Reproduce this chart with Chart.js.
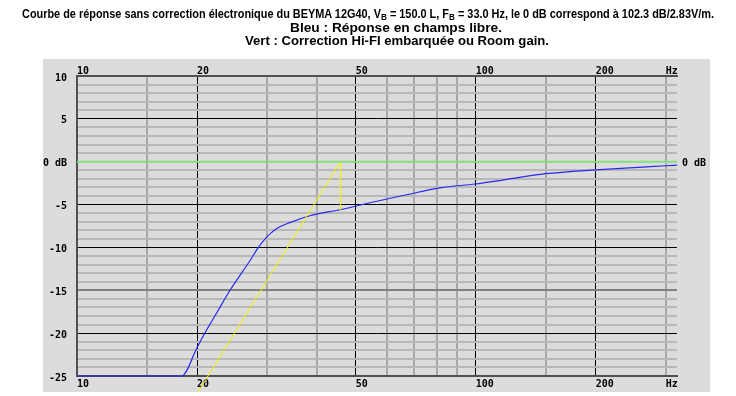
<!DOCTYPE html>
<html>
<head>
<meta charset="utf-8">
<script src="https://cdn.jsdelivr.net/npm/chart.js@4.4.0/dist/chart.umd.min.js"></script>
<style>
  html, body { margin: 0; padding: 0; background: #fff; }
  #cadre { position: relative; width: 736px; height: 396px; }
  #courbe { position: absolute; left: 0; top: 0; }
  .ligne {
    position: absolute; white-space: nowrap; color: #000;
    font: bold 12px "Liberation Sans", Arial, sans-serif;
    line-height: 13px; transform-origin: 0 0;
  }
  .ligne sub { font-size: 9px; vertical-align: -2px; line-height: 0; }
</style>
</head>
<body>
<div id="cadre">
  <canvas id="courbe" width="736" height="396"></canvas>
  <div class="ligne" data-largeur="692" style="left:22px; top:8px;">Courbe de réponse sans correction électronique du BEYMA 12G40, V<sub>B</sub> = 150.0 L, F<sub>B</sub> = 33.0 Hz, le 0 dB correspond à 102.3 dB/2.83V/m.</div>
  <div class="ligne" data-largeur="212" style="left:290px; top:22px;">Bleu : Réponse en champs libre.</div>
  <div class="ligne" data-largeur="304" style="left:245px; top:35px;">Vert : Correction Hi-FI embarquée ou Room gain.</div>
</div>
<script>
// graduations de l'axe des fréquences (Hz)
const freqTicks = [10, 15, 20, 30, 40, 50, 60, 70, 80, 90, 100, 150, 200, 300];
const freqMajeures = [20, 50, 100, 200];
const freqLabels = { 10: "10", 20: "20", 50: "50", 100: "100", 200: "200", 300: "Hz" };
const freqMin = 10;
const freqMax = 320;

// axe des niveaux (dB)
const dbMin = -25;
const dbMax = 10;

// Bleu : réponse en champs libre
const reponseFreq = [10, 18.3, 20, 20.9, 22.5, 24.2, 27.2, 28.4, 29.9, 30.7, 31.7, 34.2, 38.4, 45.7, 55.4, 67.1, 81.4, 100, 115, 150, 200, 300, 320];
const reponseDb = [-25, -25, -21.7, -20.05, -17.5, -15, -11.5, -10.1, -8.8, -8.3, -7.8, -7.1, -6.3, -5.6, -4.7, -3.85, -3.05, -2.6, -2.2, -1.4, -0.95, -0.47, -0.4];

// Jaune : correction
const correctionFreq = [20.1, 45.8, 45.8];
const correctionDb = [-26.9, 0, -5.6];

// Vert : correction Hi-FI / room gain
const roomFreq = [10, 320];
const roomDb = [0, 0];

const points = (xs, ys) => xs.map((x, i) => ({ x: x, y: ys[i] }));

// ajuste la largeur des lignes du titre
document.querySelectorAll(".ligne").forEach((l) => {
    const w = l.getBoundingClientRect().width;
    l.style.transform = "scaleX(" + (l.dataset.largeur / w) + ")";
});

// fond gris du cadre
const fondGris = {
    id: "fondGris",
    beforeDraw(chart) {
        const { ctx, chartArea: a } = chart;
        ctx.save();
        ctx.fillStyle = "#dcdcdc";
        ctx.fillRect(a.left - 34, a.top - 17, a.right - a.left + 67, a.bottom - a.top + 33);
        ctx.restore();
    }
};

const policeAxe = { family: "'DejaVu Sans Mono', monospace", size: 10, weight: "bold" };

const courbe = new Chart(document.getElementById("courbe").getContext("2d"), {
    type: "line",
    data: {
        datasets: [
            {
                data: points(roomFreq, roomDb),
                borderColor: "#80e080",
                borderWidth: 2,
                pointRadius: 0,
            },
            {
                data: points(correctionFreq, correctionDb),
                borderColor: "#f4f400",
                borderWidth: 1,
                pointRadius: 0,
                clip: false,
            },
            {
                data: points(reponseFreq, reponseDb),
                borderColor: "#2828f0",
                borderWidth: 1.2,
                pointRadius: 0,
                cubicInterpolationMode: "monotone",
                clip: false,
            },
        ],
    },
    options: {
        responsive: false,
        animation: false,
        devicePixelRatio: 1,
        layout: { padding: 0 },
        plugins: {
            legend: { display: false },
            tooltip: { enabled: false },
        },
        scales: {
            x: {
                type: "logarithmic",
                position: "bottom",
                min: freqMin,
                max: freqMax,
                afterBuildTicks: (s) => { s.ticks = freqTicks.map((v) => ({ value: v })); },
                afterFit: (s) => { s.height = 20; },
                border: { color: "#505050", width: 2 },
                grid: {
                    drawTicks: false,
                    color: (c) => c.tick.value === 10 ? "#505050" : (freqMajeures.includes(c.tick.value) ? "#000" : "#a8a8a8"),
                    lineWidth: (c) => freqMajeures.includes(c.tick.value) ? 1 : 2,
                },
                ticks: {
                    autoSkip: false,
                    maxRotation: 0,
                    align: "start",
                    padding: 2,
                    color: "#000",
                    font: policeAxe,
                    callback: (v) => freqLabels[v] || "",
                },
            },
            x2: {
                type: "logarithmic",
                position: "top",
                min: freqMin,
                max: freqMax,
                afterBuildTicks: (s) => { s.ticks = freqTicks.map((v) => ({ value: v })); },
                afterFit: (s) => { s.height = 76; },
                border: { color: "#505050", width: 2 },
                grid: { display: false, drawTicks: false },
                ticks: {
                    autoSkip: false,
                    maxRotation: 0,
                    align: "start",
                    padding: -1,
                    color: "#000",
                    font: policeAxe,
                    callback: (v) => freqLabels[v] || "",
                },
            },
            y: {
                position: "left",
                min: dbMin,
                max: dbMax,
                afterFit: (s) => { s.width = 77; },
                border: { color: "#505050", width: 2 },
                grid: {
                    drawTicks: false,
                    color: (c) => {
                        const v = c.tick.value;
                        if (v === dbMax || v === dbMin) return "#505050";
                        if (v === -15) return "#808080";
                        if (v % 5 === 0) return "#000";
                        return "#b8b8b8";
                    },
                    lineWidth: (c) => (c.tick.value % 5 === 0 && c.tick.value !== -15) ? 1 : 2,
                },
                ticks: {
                    stepSize: 1,
                    autoSkip: false,
                    padding: 10,
                    labelOffset: 2,
                    color: "#000",
                    font: policeAxe,
                    callback: (v) => v % 5 === 0 ? (v === 0 ? "0 dB" : String(v)) : "",
                },
            },
            y2: {
                position: "right",
                min: dbMin,
                max: dbMax,
                afterBuildTicks: (s) => { s.ticks = [{ value: 0 }]; },
                afterFit: (s) => { s.width = 59; },
                border: { display: false },
                grid: { display: false, drawTicks: false },
                ticks: {
                    padding: 5,
                    labelOffset: 2,
                    color: "#000",
                    font: policeAxe,
                    callback: () => "0 dB",
                },
            },
        },
    },
    plugins: [fondGris],
});
</script>
</body>
</html>
